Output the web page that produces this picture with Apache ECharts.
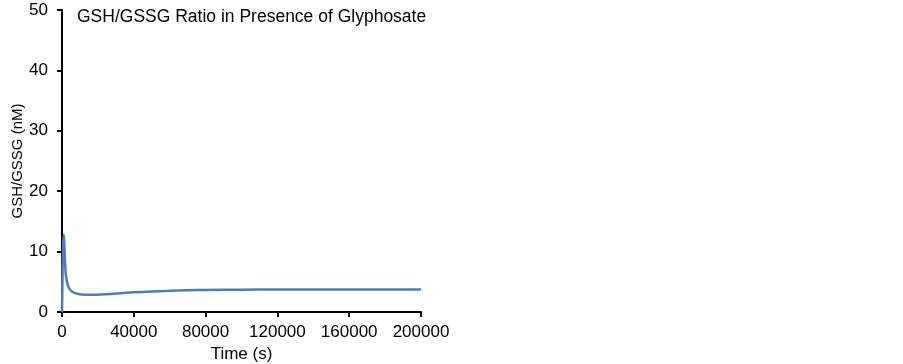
<!DOCTYPE html>
<html><head><meta charset="utf-8">
<script src="https://cdn.jsdelivr.net/npm/echarts@6/dist/echarts.min.js"></script>
<style>html,body{margin:0;padding:0;background:#fff}#c{width:903px;height:364px}</style>
</head><body><div id="c"></div>
<script>
const titleText = 'GSH/GSSG Ratio in Presence of Glyphosate';
const xName = 'Time (s)';
const yName = 'GSH/GSSG (nM)';
const timeS = [0, 150, 400, 700, 1000, 1300, 1700, 2200, 3000, 4000, 5500, 7500, 10000, 14000, 18000, 25000, 32000, 40000, 50000, 60000, 70000, 80000, 100000, 120000, 160000, 200000];
const ratio = [0, 3, 8, 11.5, 12.8, 11.2, 8.2, 6.0, 4.7, 3.9, 3.4, 3.1, 2.95, 2.85, 2.85, 2.95, 3.1, 3.25, 3.4, 3.5, 3.6, 3.65, 3.7, 3.72, 3.73, 3.74];
const yTicks = [0, 10, 20, 30, 40, 50];
const xTicks = [0, 40000, 80000, 120000, 160000, 200000];

const font = 'Liberation Sans, Arial, sans-serif';
const chart = echarts.init(document.getElementById('c'), null, {renderer: 'canvas'});
chart.setOption({
  animation: false,
  title: {text: titleText, left: 77, top: 8, padding: 0, textStyle: {fontFamily: font, fontSize: 17.5, fontWeight: 'normal', color: '#000'}},
  grid: {left: 62, right: 482, top: 10, bottom: 52, containLabel: false, outerBoundsMode: 'none'},
  xAxis: {
    type: 'value', min: xTicks[0], max: xTicks[xTicks.length - 1], interval: 40000,
    name: xName, nameLocation: 'middle', nameGap: 33,
    nameTextStyle: {fontFamily: font, fontSize: 17, color: '#000'},
    axisLine: {lineStyle: {color: '#000', width: 2}},
    axisTick: {show: true, length: 5, lineStyle: {color: '#000', width: 2}},
    axisLabel: {fontFamily: font, fontSize: 17, color: '#000', margin: 12, formatter: v => String(v)},
    splitLine: {show: false}
  },
  yAxis: {
    type: 'value', min: yTicks[0], max: yTicks[yTicks.length - 1], interval: 10,
    name: yName, nameLocation: 'middle', nameGap: 37,
    nameTextStyle: {fontFamily: font, fontSize: 15, color: '#000'},
    axisLine: {show: true, lineStyle: {color: '#000', width: 2}},
    axisTick: {show: true, length: 5, lineStyle: {color: '#000', width: 2}},
    axisLabel: {fontFamily: font, fontSize: 17, color: '#000', margin: 14, formatter: v => String(v)},
    splitLine: {show: false}
  },
  series: [{
    type: 'line', data: timeS.map((t, i) => [t, ratio[i]]),
    showSymbol: false, smooth: 0.3,
    lineStyle: {color: '#4a7ebb', width: 2.5}
  }]
});
</script></body></html>
